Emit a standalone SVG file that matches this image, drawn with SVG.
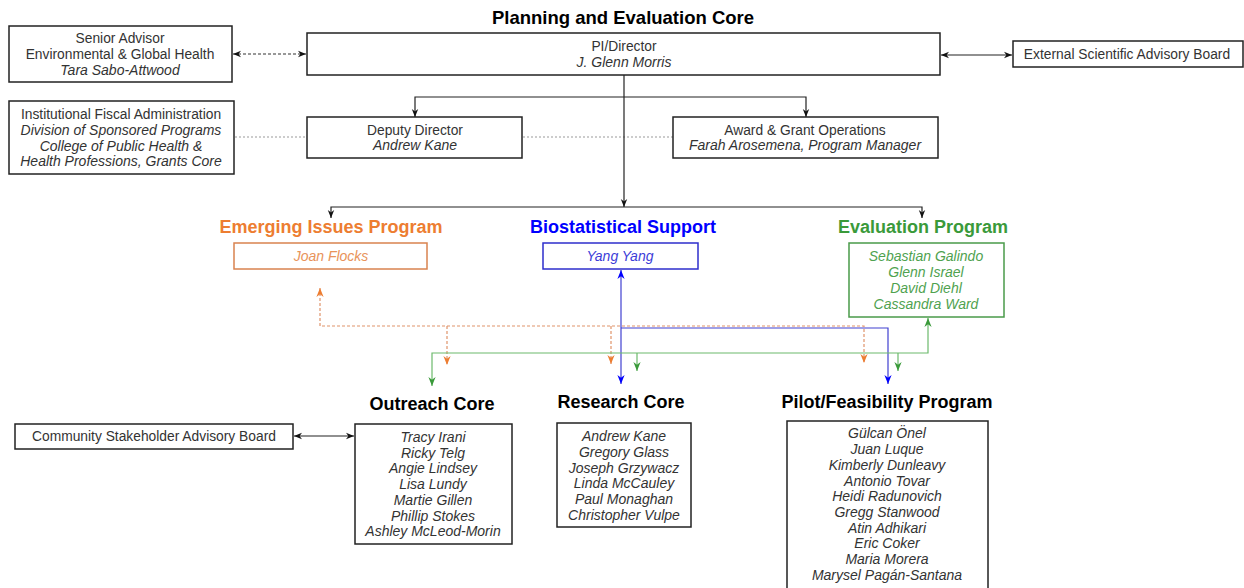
<svg xmlns="http://www.w3.org/2000/svg" width="1244" height="588" viewBox="0 0 1244 588">
<style>
text{font-family:"Liberation Sans",Arial,sans-serif;font-size:13.8px;fill:#333;text-anchor:middle}
.it{font-style:italic;font-size:14px}
.hd{font-weight:bold;font-size:18px;fill:#000}
.box{fill:#fff;stroke:#222;stroke-width:1.5}
.c{fill:none;stroke:#222;stroke-width:1.2}
.dash{fill:none;stroke:#333;stroke-width:1.2;stroke-dasharray:3,2}
.gray{fill:none;stroke:#999;stroke-width:1.2;stroke-dasharray:2,2}
.or{fill:none;stroke:#E0936A;stroke-width:1.2;stroke-dasharray:3,2}
.bl{fill:none;stroke:#4040D0;stroke-width:1.2}
.gr{fill:none;stroke:#6CBA6C;stroke-width:1.2}
</style>
<defs>
<marker id="ak" viewBox="0 0 10 10" refX="10" refY="5" markerWidth="8" markerHeight="8" markerUnits="userSpaceOnUse" orient="auto-start-reverse"><path d="M0,1 L10,5 L0,9 L3,5 z" fill="#111"/></marker>
<marker id="ao" viewBox="0 0 10 10" refX="10" refY="5" markerWidth="9" markerHeight="9" markerUnits="userSpaceOnUse" orient="auto-start-reverse"><path d="M0,1 L10,5 L0,9 L3,5 z" fill="#ED7D31"/></marker>
<marker id="ab" viewBox="0 0 10 10" refX="10" refY="5" markerWidth="9" markerHeight="9" markerUnits="userSpaceOnUse" orient="auto-start-reverse"><path d="M0,1 L10,5 L0,9 L3,5 z" fill="#0000FF"/></marker>
<marker id="ag" viewBox="0 0 10 10" refX="10" refY="5" markerWidth="9" markerHeight="9" markerUnits="userSpaceOnUse" orient="auto-start-reverse"><path d="M0,1 L10,5 L0,9 L3,5 z" fill="#3A9A3A"/></marker>
</defs>

<g id="connectors">
<line class="dash" x1="233" y1="54" x2="306" y2="54" marker-start="url(#ak)" marker-end="url(#ak)"/>
<line class="c" x1="941" y1="55" x2="1012" y2="55" marker-start="url(#ak)" marker-end="url(#ak)"/>
<line class="gray" x1="235" y1="137" x2="307" y2="137"/>
<line class="gray" x1="523" y1="137" x2="673" y2="137"/>
<line class="c" x1="624" y1="75" x2="624" y2="207" marker-end="url(#ak)"/>
<path class="c" d="M624,97 H415 V117" marker-end="url(#ak)"/>
<path class="c" d="M624,97 H806 V117" marker-end="url(#ak)"/>
<path class="c" d="M624,207 H331 V218" marker-end="url(#ak)"/>
<path class="c" d="M624,207 H922 V218" marker-end="url(#ak)"/>
<path class="or" d="M320,288 V326 H864 V363" marker-start="url(#ao)" marker-end="url(#ao)"/>
<path class="or" d="M447,326 V365" marker-end="url(#ao)"/>
<path class="or" d="M611,326 V364" marker-end="url(#ao)"/>
<path class="bl" d="M621,270 V384" marker-start="url(#ab)" marker-end="url(#ab)"/>
<path class="bl" d="M621,328 H888 V384" marker-end="url(#ab)"/>
<path class="gr" d="M928,318 V353 H432 V386" marker-start="url(#ag)" marker-end="url(#ag)"/>
<path class="gr" d="M637,353 V371" marker-end="url(#ag)"/>
<path class="gr" d="M898,353 V371" marker-end="url(#ag)"/>
<line class="c" x1="294" y1="436" x2="354" y2="436" marker-start="url(#ak)" marker-end="url(#ak)"/>
</g>

<g id="title"><text class="hd" x="623" y="24" style="font-size:18.5px">Planning and Evaluation Core</text></g>

<g id="senior-advisor">
<rect class="box" x="9" y="26" width="223" height="56"/>
<text x="120" y="43">Senior Advisor</text>
<text x="120" y="59">Environmental &amp; Global Health</text>
<text class="it" x="120" y="75">Tara Sabo-Attwood</text>
</g>

<g id="pi-director">
<rect class="box" x="307" y="33" width="633" height="42"/>
<text x="624" y="51">PI/Director</text>
<text class="it" x="624" y="67">J. Glenn Morris</text>
</g>

<g id="external-board">
<rect class="box" x="1013" y="41" width="230" height="26"/>
<text x="1127" y="59">External Scientific Advisory Board</text>
</g>

<g id="fiscal-admin">
<rect class="box" x="9" y="101" width="225" height="73"/>
<text x="121" y="119">Institutional Fiscal Administration</text>
<text class="it" x="121" y="135">Division of Sponsored Programs</text>
<text class="it" x="121" y="151">College of Public Health &amp;</text>
<text class="it" x="121" y="166">Health Professions, Grants Core</text>
</g>

<g id="deputy-director">
<rect class="box" x="307" y="117" width="215" height="41"/>
<text x="415" y="135">Deputy Director</text>
<text class="it" x="415" y="150">Andrew Kane</text>
</g>

<g id="award-grant">
<rect class="box" x="673" y="117" width="265" height="41"/>
<text x="805" y="135">Award &amp; Grant Operations</text>
<text class="it" x="805" y="150">Farah Arosemena, Program Manager</text>
</g>

<g id="emerging-issues">
<text class="hd" x="331" y="233" style="fill:#ED7D31">Emerging Issues Program</text>
<rect x="234" y="243" width="193" height="26" fill="#fff" stroke="#D9834F" stroke-width="1.5"/>
<text class="it" x="331" y="261" style="fill:#E8935A">Joan Flocks</text>
</g>

<g id="biostatistical">
<text class="hd" x="623" y="233" style="fill:#0000FF">Biostatistical Support</text>
<rect x="543" y="243" width="155" height="26" fill="#fff" stroke="#2E2ECC" stroke-width="1.5"/>
<text class="it" x="620" y="261" style="fill:#3C3CD8">Yang Yang</text>
</g>

<g id="evaluation">
<text class="hd" x="923" y="233" style="fill:#3A9A3A">Evaluation Program</text>
<rect x="849" y="243" width="155" height="74" fill="#fff" stroke="#4A9A4A" stroke-width="1.5"/>
<text class="it" x="926" y="261" style="fill:#4FA24F">Sebastian Galindo</text>
<text class="it" x="926" y="277" style="fill:#4FA24F">Glenn Israel</text>
<text class="it" x="926" y="293" style="fill:#4FA24F">David Diehl</text>
<text class="it" x="926" y="309" style="fill:#4FA24F">Cassandra Ward</text>
</g>

<g id="community-board">
<rect class="box" x="15" y="424" width="278" height="25"/>
<text x="154" y="441">Community Stakeholder Advisory Board</text>
</g>

<g id="outreach-core">
<text class="hd" x="432" y="410">Outreach Core</text>
<rect class="box" x="355" y="424" width="157" height="120"/>
<text class="it" x="433" y="442">Tracy Irani</text>
<text class="it" x="433" y="458">Ricky Telg</text>
<text class="it" x="433" y="473">Angie Lindsey</text>
<text class="it" x="433" y="489">Lisa Lundy</text>
<text class="it" x="433" y="505">Martie Gillen</text>
<text class="it" x="433" y="521">Phillip Stokes</text>
<text class="it" x="433" y="536">Ashley McLeod-Morin</text>
</g>

<g id="research-core">
<text class="hd" x="621" y="408">Research Core</text>
<rect class="box" x="557" y="423" width="134" height="104"/>
<text class="it" x="624" y="441">Andrew Kane</text>
<text class="it" x="624" y="457">Gregory Glass</text>
<text class="it" x="624" y="473">Joseph Grzywacz</text>
<text class="it" x="624" y="488">Linda McCauley</text>
<text class="it" x="624" y="504">Paul Monaghan</text>
<text class="it" x="624" y="520">Christopher Vulpe</text>
</g>

<g id="pilot-program">
<text class="hd" x="887" y="408">Pilot/Feasibility Program</text>
<rect class="box" x="787" y="421" width="201" height="175"/>
<text class="it" x="887" y="438">Gülcan Önel</text>
<text class="it" x="887" y="454">Juan Luque</text>
<text class="it" x="887" y="470">Kimberly Dunleavy</text>
<text class="it" x="887" y="486">Antonio Tovar</text>
<text class="it" x="887" y="501">Heidi Radunovich</text>
<text class="it" x="887" y="517">Gregg Stanwood</text>
<text class="it" x="887" y="533">Atin Adhikari</text>
<text class="it" x="887" y="548">Eric Coker</text>
<text class="it" x="887" y="564">Maria Morera</text>
<text class="it" x="887" y="580">Marysel Pagán-Santana</text>
</g>
</svg>
